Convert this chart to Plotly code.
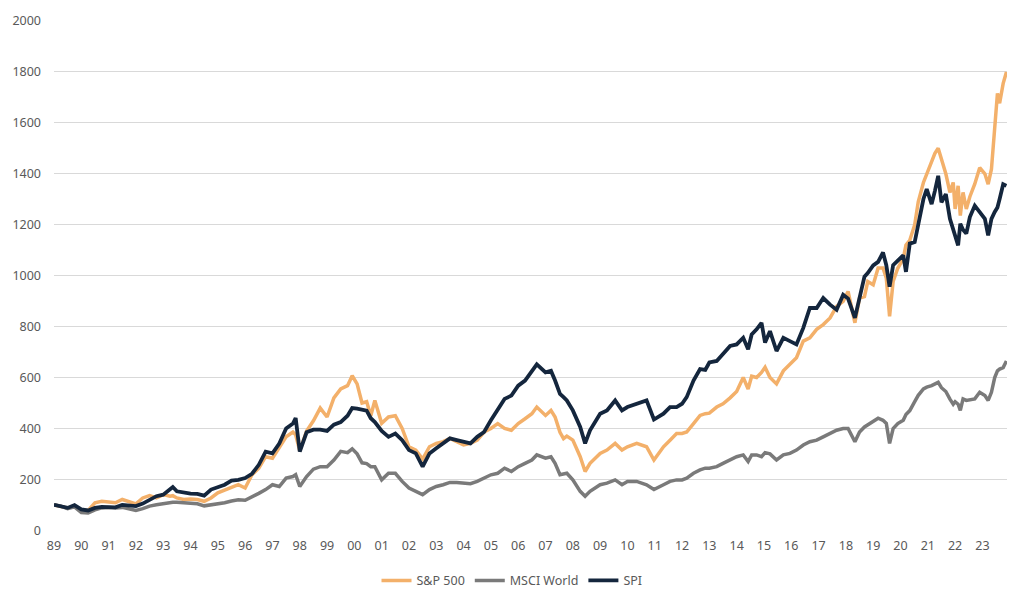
import plotly.graph_objects as go

# time positions (in axis-label years) and index values
t = [1989.0, 1989.25, 1989.5, 1989.75, 1990.0, 1990.25, 1990.5, 1990.75, 1991.0, 1991.25,
     1991.5, 1991.75, 1992.0, 1992.25, 1992.5, 1992.75, 1993.0, 1993.25, 1993.35, 1993.5,
     1993.75, 1994.0, 1994.25, 1994.5, 1994.75, 1995.0, 1995.25, 1995.5, 1995.75, 1996.0,
     1996.25, 1996.5, 1996.75, 1997.0, 1997.25, 1997.5, 1997.75, 1997.85,
     1998.0, 1998.25, 1998.5, 1998.75, 1999.0, 1999.25, 1999.5, 1999.75, 1999.92, 2000.1,
     2000.28, 2000.45,
     2000.6, 2000.75, 2001.0, 2001.25, 2001.5, 2001.75, 2002.0, 2002.25, 2002.5, 2002.75,
     2003.0, 2003.25, 2003.5, 2003.75, 2004.0, 2004.25, 2004.5, 2004.75, 2005.0, 2005.25,
     2005.5, 2005.75, 2006.0, 2006.25, 2006.5, 2006.68,
     2007.0, 2007.2, 2007.35, 2007.53, 2007.66, 2007.78, 2008.0, 2008.27, 2008.45, 2008.63,
     2009.0, 2009.25, 2009.55, 2009.8, 2010.0, 2010.34, 2010.7, 2010.97, 2011.32, 2011.56,
     2011.8, 2012.0, 2012.17, 2012.42, 2012.66, 2012.85,
     2013.0, 2013.27, 2013.5, 2013.76, 2014.0, 2014.24, 2014.42, 2014.55, 2014.73, 2014.91,
     2015.04, 2015.22, 2015.46, 2015.71, 2015.95, 2016.19, 2016.44, 2016.68, 2016.93, 2017.17,
     2017.42, 2017.66, 2017.9, 2018.08, 2018.33,
     2018.5, 2018.68, 2018.8, 2019.0, 2019.18, 2019.36, 2019.48, 2019.6, 2019.73, 2019.9,
     2020.1, 2020.2, 2020.34, 2020.52, 2020.65, 2020.84, 2020.96, 2021.14, 2021.26, 2021.38,
     2021.5, 2021.66, 2021.81, 2021.93, 2022.0, 2022.11, 2022.19, 2022.29, 2022.41, 2022.54,
     2022.72, 2022.9, 2023.09, 2023.21, 2023.33, 2023.45, 2023.55, 2023.63, 2023.76, 2023.88]

sp500 = [100, 95, 88, 95, 80, 78, 108, 114, 110, 108,
         121, 114, 104, 127, 136, 127, 140, 134, 136, 127,
         121, 123, 121, 114, 127, 147, 157, 170, 179, 166,
         218, 244, 289, 283, 322, 367, 386, 375,
         312, 390, 430, 480, 445, 520, 555, 568, 607, 575,
         500, 505,
         450, 510, 420, 445, 450, 400, 328, 315, 280, 328,
         341, 348, 361, 348, 335, 341, 354, 386, 400, 419,
         400, 393, 419, 438, 458, 484,
         451, 471, 445, 385, 360, 370, 354, 289, 231, 263,
         302, 315, 341, 315, 328, 341, 328, 276, 328, 354,
         380, 380, 386, 419, 451, 458,
         460, 484, 497, 520, 545, 600, 555, 605, 600, 620,
         640, 600, 575, 626, 652, 678, 743, 756, 789, 808,
         834, 879, 899, 938, 815,
         912, 918, 977, 964, 1030, 1030, 990, 840, 977, 1029,
         1067, 1120, 1139, 1200, 1290, 1366, 1398, 1445, 1480, 1500,
         1457, 1400, 1327, 1366, 1262, 1353, 1236, 1327, 1262, 1310,
         1360, 1424, 1400, 1359, 1418, 1586, 1716, 1677, 1755, 1800]

msci_world = [100, 95, 85, 92, 70, 68, 80, 88, 90, 88,
              90, 85, 78, 85, 95, 100, 105, 108, 110, 110,
              108, 106, 104, 96, 100, 102, 108, 115, 120, 118,
              130, 145, 160, 179, 172, 205, 211, 218,
              172, 211, 240, 250, 250, 276, 310, 305, 320, 300,
              265, 262,
              250, 250, 198, 224, 224, 192, 166, 153, 140, 160,
              172, 179, 188, 188, 185, 183, 192, 205, 218, 224,
              244, 231, 250, 263, 276, 296,
              283, 289, 263, 218, 220, 224, 198, 153, 134, 153,
              179, 185, 198, 179, 192, 192, 179, 160, 179, 192,
              198, 198, 205, 224, 237, 244,
              244, 250, 263, 276, 289, 296, 270, 296, 296, 289,
              305, 300, 276, 296, 302, 315, 335, 348, 354, 367,
              380, 393, 400, 400, 348,
              386, 406, 415, 430, 440, 432, 420, 341, 399, 419,
              432, 455, 470, 505, 530, 555, 562, 568, 575, 581,
              560, 545, 515, 495, 505, 495, 471, 516, 510, 512,
              516, 542, 529, 510, 542, 600, 626, 633, 639, 665]

spi = [100, 95, 88, 99, 82, 78, 88, 92, 92, 90,
       100, 97, 95, 105, 118, 134, 140, 160, 170, 153,
       147, 144, 143, 136, 160, 170, 179, 195, 198, 205,
       222, 257, 309, 302, 341, 400, 419, 441,
       309, 385, 395, 395, 390, 415, 425, 450, 480, 478,
       475, 470,
       440, 425, 390, 367, 380, 354, 315, 302, 250, 302,
       322, 341, 361, 354, 348, 341, 367, 386, 432, 477,
       516, 529, 568, 588, 626, 652,
       620, 626, 588, 536, 523, 510, 471, 406, 341, 393,
       458, 471, 510, 471, 484, 497, 510, 435, 458, 484,
       484, 497, 523, 588, 633, 630,
       659, 665, 691, 724, 730, 756, 711, 769, 789, 815,
       737, 782, 704, 756, 743, 730, 795, 873, 873, 912,
       886, 866, 925, 910, 834,
       912, 996, 1010, 1040, 1054, 1091, 1041, 957, 1041, 1061,
       1080, 1015, 1126, 1132, 1197, 1301, 1340, 1281, 1333, 1392,
       1288, 1320, 1223, 1184, 1150, 1119, 1204, 1180, 1165, 1230,
       1275, 1249, 1223, 1158, 1223, 1250, 1268, 1301, 1359, 1353]

tick_years = list(range(1989, 2024))
tick_labels = ["89", "90", "91", "92", "93", "94", "95", "96", "97", "98", "99",
               "00", "01", "02", "03", "04", "05", "06", "07", "08", "09", "10",
               "11", "12", "13", "14", "15", "16", "17", "18", "19", "20", "21",
               "22", "23"]
y_ticks = list(range(0, 2001, 200))

fig = go.Figure()
fig.add_trace(go.Scatter(x=t, y=sp500, name="S&P 500", mode="lines",
                         line=dict(color="#F3B06A", width=3.5)))
fig.add_trace(go.Scatter(x=t, y=msci_world, name="MSCI World", mode="lines",
                         line=dict(color="#7A7A7A", width=3.5)))
fig.add_trace(go.Scatter(x=t, y=spi, name="SPI", mode="lines",
                         line=dict(color="#14263D", width=3.8)))

fig.update_layout(
    width=1024, height=605,
    margin=dict(l=53, r=17, t=15, b=72),
    paper_bgcolor="white", plot_bgcolor="white",
    font=dict(family="Noto Sans, Roboto, sans-serif", size=12.5, color="#595959"),
    showlegend=True,
    legend=dict(orientation="h", x=0.5, xanchor="center", xref="container",
                y=0.04, yanchor="middle", yref="container",
                font=dict(size=12.5, color="#595959"), itemwidth=30,
                traceorder="normal"),
    hovermode=False,
)
fig.update_xaxes(range=[1989, 2023.9], tickmode="array", tickvals=tick_years,
                 ticktext=tick_labels, showgrid=False, zeroline=False,
                 showline=False, ticks="", ticklabelstandoff=6)
fig.update_yaxes(range=[0, 2000], tickmode="array", tickvals=y_ticks,
                 showgrid=True, gridcolor="#D9D9D9", gridwidth=1,
                 zeroline=False, showline=False, ticks="", ticklabelstandoff=12)

fig.write_html("out.html", config={"displayModeBar": False, "staticPlot": True},
               post_script="document.body.style.margin='0';document.body.style.overflow='hidden';")
